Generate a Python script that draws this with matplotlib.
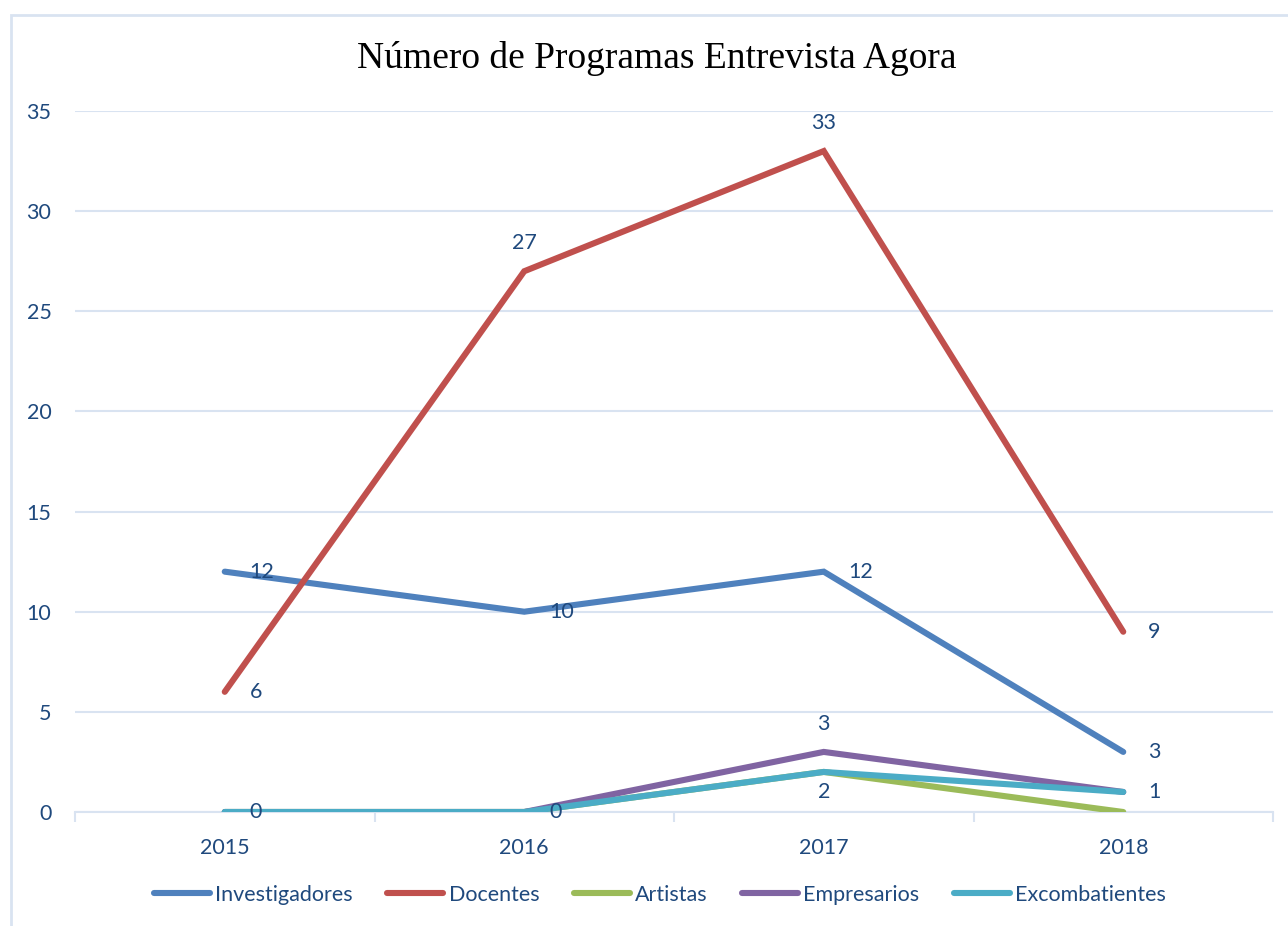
import matplotlib
matplotlib.use("Agg")
import matplotlib.pyplot as plt
from matplotlib.patches import Rectangle

# datos
anos = ["2015", "2016", "2017", "2018"]
investigadores = [12, 10, 12, 3]
docentes = [6, 27, 33, 9]
artistas = [0, 0, 2, 0]
empresarios = [0, 0, 3, 1]
excombatientes = [0, 0, 2, 1]

series = [
    ("Investigadores", investigadores, "#4F81BD"),
    ("Docentes", docentes, "#C0504D"),
    ("Artistas", artistas, "#9BBB59"),
    ("Empresarios", empresarios, "#8064A2"),
    ("Excombatientes", excombatientes, "#4BACC6"),
]

# etiquetas de datos: (serie, índice, posición)
etiquetas = [
    (investigadores, 0, "right"), (investigadores, 1, "right"),
    (investigadores, 2, "right"), (investigadores, 3, "right"),
    (docentes, 0, "right"), (docentes, 1, "above"),
    (docentes, 2, "above"), (docentes, 3, "right"),
    (excombatientes, 0, "right"), (excombatientes, 1, "right"),
    (empresarios, 2, "above"), (excombatientes, 2, "below"),
    (excombatientes, 3, "right"),
]

TXT = "#1F497D"
GRID = "#D9E3F1"
FONT = ["Lato", "DejaVu Sans"]
FS = 15.5

fig = plt.figure(figsize=(12.88, 9.26), dpi=100)
fig.patches.append(Rectangle((11 / 1288, -0.1), 1.2, 1 - 15 / 926 + 0.1,
                             transform=fig.transFigure, fill=False,
                             edgecolor=GRID, linewidth=2))

ax = fig.add_axes([75 / 1288, 1 - 812 / 926, 1198 / 1288, 701 / 926])
x = list(range(len(anos)))

for nombre, vals, cor in series:
    ax.plot(x, vals, color=cor, linewidth=4.4, solid_capstyle="round",
            solid_joinstyle="miter", label=nombre, zorder=3)

for vals, i, pos in etiquetas:
    if pos == "right":
        ax.annotate(str(vals[i]), (i, vals[i]), xytext=(18, 0), textcoords="offset points",
                    ha="left", va="center", fontsize=FS, color=TXT, family=FONT, zorder=4)
    elif pos == "above":
        ax.annotate(str(vals[i]), (i, vals[i]), xytext=(0, 13), textcoords="offset points",
                    ha="center", va="bottom", fontsize=FS, color=TXT, family=FONT, zorder=4)
    else:
        ax.annotate(str(vals[i]), (i, vals[i]), xytext=(0, -7), textcoords="offset points",
                    ha="center", va="top", fontsize=FS, color=TXT, family=FONT, zorder=4)

ax.set_xlim(-0.5, 3.5)
ax.set_ylim(0, 35)
ax.set_yticks(range(0, 36, 5))
ax.set_xticks(x)
ax.set_xticklabels(anos)
ax.set_xticks([-0.5, 0.5, 1.5, 2.5, 3.5], minor=True)
ax.tick_params(axis="x", which="major", length=0, pad=19)
ax.tick_params(axis="x", which="minor", length=7, color=GRID, width=1.5)
ax.tick_params(axis="y", length=0, pad=17)
for lab in ax.get_xticklabels() + ax.get_yticklabels():
    lab.set_fontsize(FS)
    lab.set_color(TXT)
    lab.set_family(FONT)

ax.grid(axis="y", color=GRID, linewidth=1.5)
ax.set_axisbelow(True)
for s in ["top", "right", "left"]:
    ax.spines[s].set_visible(False)
ax.spines["bottom"].set_color(GRID)
ax.spines["bottom"].set_linewidth(1.5)

fig.text(657 / 1288, 1 - 58 / 926, "Número de Programas Entrevista Agora",
         ha="center", va="center", fontsize=27, family="Liberation Serif")

leg = fig.legend(loc="center", bbox_to_anchor=(660 / 1288, 1 - 895 / 926), ncol=5,
                 frameon=False, handlelength=2.6, handletextpad=0.25, columnspacing=1.6,
                 prop={"family": FONT, "size": FS})
for t in leg.get_texts():
    t.set_color(TXT)

fig.savefig("out.png", dpi=100)
